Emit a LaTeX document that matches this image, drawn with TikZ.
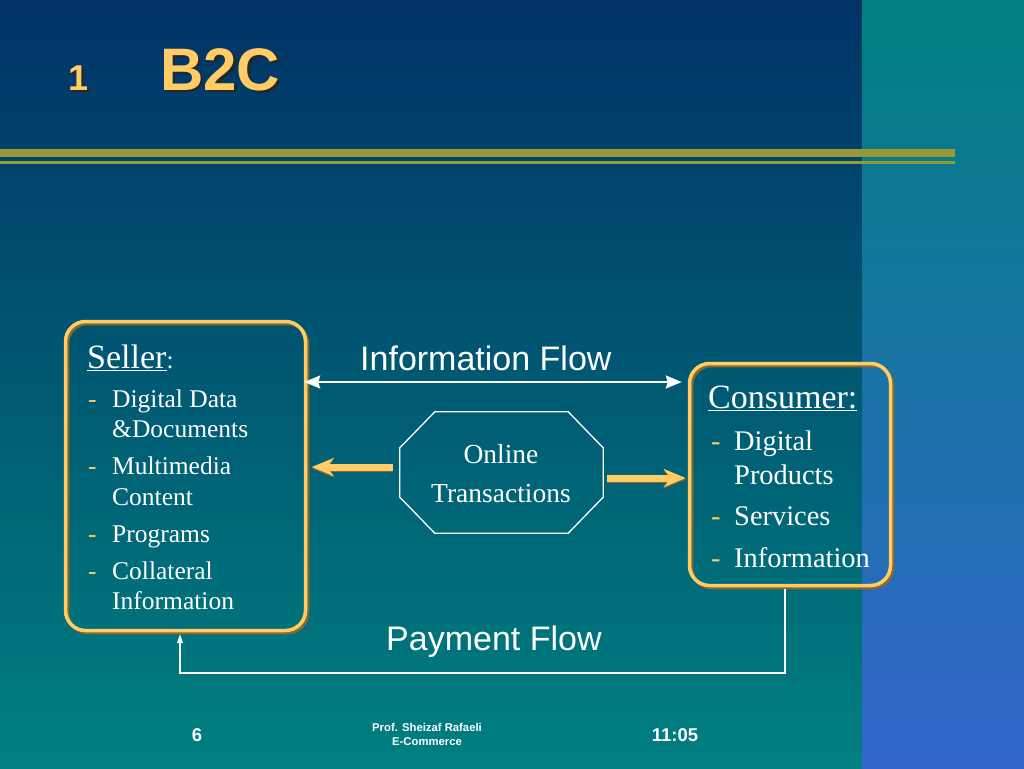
\documentclass[tikz,border=0pt]{standalone}
\usepackage{fontspec}
\setmainfont{Liberation Serif}
\newfontfamily\arial{Liberation Sans}
\usetikzlibrary{arrows.meta,calc}
\definecolor{navy}{HTML}{003366}
\definecolor{tealbg}{HTML}{008080}
\definecolor{bluebg}{HTML}{3366CC}
\definecolor{gold}{HTML}{FFCC66}
\definecolor{golddark}{HTML}{8A6A2A}
\definecolor{olive}{HTML}{999933}
\newcommand{\shadowtext}[1]{\rlap{\hspace{2.5pt}\raisebox{-2.5pt}{\textcolor{black!85}{#1}}}\textcolor{gold}{#1}}
\tikzset{
  boxframe/.style={draw=gold, line width=3.5pt, rounded corners=20pt, inner sep=0pt},
  boxshade/.style={draw=golddark, line width=3.5pt, rounded corners=20pt, inner sep=0pt},
  big/.style={anchor=base west, text=white, inner sep=0pt, font=\fontsize{34}{34}\selectfont},
  itemS/.style={anchor=base west, text=white, inner sep=0pt, font=\fontsize{25.5}{25.5}\selectfont},
  itemC/.style={anchor=base west, text=white, inner sep=0pt, font=\fontsize{28.4}{28.4}\selectfont},
  dashS/.style={anchor=base west, text=gold, inner sep=0pt, font=\fontsize{25.5}{25.5}\selectfont},
  dashC/.style={anchor=base west, text=gold, inner sep=0pt, font=\fontsize{28.4}{28.4}\selectfont},
  flowlbl/.style={anchor=base west, text=white, inner sep=0pt, font=\arial\fontsize{34}{34}\selectfont},
  foot/.style={text=white, inner sep=0pt, font=\arial\bfseries\fontsize{18.5}{18.5}\selectfont},
  footsmall/.style={text=white, inner sep=0pt, anchor=base, font=\arial\bfseries\fontsize{11.3}{11.3}\selectfont},
  yarrow/.style={draw=gold, line width=7pt, -{Stealth[length=22pt,width=18pt,inset=7pt]}},
  yarrowsh/.style={draw=golddark, line width=7pt, -{Stealth[length=22pt,width=18pt,inset=7pt]}},
  infoarrow/.style={draw=white, line width=2pt, {Stealth[length=16pt,width=13pt,inset=2pt]}-{Stealth[length=16pt,width=13pt,inset=2pt]}},
  payline/.style={draw=white, line width=1.5pt, -{Stealth[length=9pt,width=6pt,inset=1pt]}},
}
\begin{document}
\begin{tikzpicture}[x=1pt,y=-1pt]
\useasboundingbox (0,0) rectangle (1024,768);
% background
\shade[top color=navy,bottom color=tealbg] (0,0) rectangle (862,768);
\shade[top color=tealbg,bottom color=bluebg] (862,0) rectangle (1024,768);
% rules
\fill[olive] (0,149) rectangle (955,157);
\fill[olive] (0,161) rectangle (955,164);
% title
\node[anchor=base west, inner sep=0pt, font=\arial\bfseries\fontsize{36}{36}\selectfont] (num) at (68,90) {\shadowtext{1}};
\node[anchor=base west, inner sep=0pt, font=\arial\bfseries\fontsize{60}{60}\selectfont] (title) at (160,90) {\shadowtext{B2C}};
% boxes
\node[boxshade, minimum width=240pt, minimum height=309pt] (sellersh) at (187.5,478) {};
\node[boxframe, minimum width=240pt, minimum height=309pt] (seller) at (185.5,476) {};
\node[boxshade, minimum width=201pt, minimum height=222pt] (consumersh) at (792,476.5) {};
\node[boxframe, minimum width=201pt, minimum height=222pt] (consumer) at (790,474.5) {};
% seller text
\node[big] (sellerlbl) at (87,368) {\underline{Seller}{\fontsize{25}{25}\selectfont:}};
\node[dashS] (sd1) at (88,407) {-};
\node[itemS] (s1a) at (112,407) {Digital Data};
\node[itemS] (s1b) at (112,437) {\&Documents};
\node[dashS] (sd2) at (88,474) {-};
\node[itemS] (s2a) at (112,474) {Multimedia};
\node[itemS] (s2b) at (112,505) {Content};
\node[dashS] (sd3) at (88,542) {-};
\node[itemS] (s3a) at (112,542) {Programs};
\node[dashS] (sd4) at (88,579) {-};
\node[itemS] (s4a) at (112,579) {Collateral};
\node[itemS] (s4b) at (112,609) {Information};
% consumer text
\node[big] (consumerlbl) at (708,408) {\underline{Consumer:}};
\node[dashC] (cd1) at (711,450) {-};
\node[itemC] (c1a) at (734,450) {Digital};
\node[itemC] (c1b) at (734,484) {Products};
\node[dashC] (cd2) at (711,525) {-};
\node[itemC] (c2a) at (734,525) {Services};
\node[dashC] (cd3) at (711,567) {-};
\node[itemC] (c3a) at (734,567) {Information};
% online transactions octagon
\node[minimum width=203pt, minimum height=121pt, inner sep=0pt] (oct) at (501.5,472.5) {};
\draw[white, line width=1.3pt]
  ([xshift=35pt]oct.north west) -- ([xshift=-35pt]oct.north east)
  -- ([yshift=-36pt]oct.north east) -- ([yshift=36pt]oct.south east)
  -- ([xshift=-35pt]oct.south east) -- ([xshift=35pt]oct.south west)
  -- ([yshift=36pt]oct.south west) -- ([yshift=-36pt]oct.north west) -- cycle;
\node[anchor=base, text=white, inner sep=0pt, font=\fontsize{27.5}{27.5}\selectfont] (online1) at (501,463) {Online};
\node[anchor=base, text=white, inner sep=0pt, font=\fontsize{27.5}{27.5}\selectfont] (online2) at (501,502) {Transactions};
% flows
\node[flowlbl] (infolbl) at (360,370) {Information Flow};
\coordinate (iy) at (0,382);
\draw[infoarrow, shorten <=-3pt, shorten >=6pt] (seller.east |- iy) -- (consumer.west |- iy);
\coordinate (ly) at (0,467);
\coordinate (ry) at (0,478);
\draw[yarrowsh, shorten <=7pt, shorten >=4.5pt] ([yshift=-1.5pt]oct.west |- ly) -- ([yshift=-1.5pt]seller.east |- ly);
\draw[yarrow, shorten <=7pt, shorten >=4.5pt] (oct.west |- ly) -- (seller.east |- ly);
\draw[yarrowsh, shorten <=4pt, shorten >=2pt] ([yshift=-1.5pt]oct.east |- ry) -- ([yshift=-1.5pt]consumer.west |- ry);
\draw[yarrow, shorten <=4pt, shorten >=2pt] (oct.east |- ry) -- (consumer.west |- ry);
\node[flowlbl] (paylbl) at (386,650) {Payment Flow};
\coordinate (p1) at (785,673);
\coordinate (p2) at (180,673);
\draw[payline, shorten <=2pt, shorten >=2pt] (consumer.south -| p1) -- (p1) -- (p2) -- (seller.south -| p2);
% footer
\node[foot, anchor=base] (pagenum) at (197,741) {6};
\node[footsmall] (author) at (427,731.5) {Prof. Sheizaf Rafaeli};
\node[footsmall] (course) at (427,745) {E-Commerce};
\node[foot, anchor=base] (time) at (675,741) {11:05};
\end{tikzpicture}
\end{document}
